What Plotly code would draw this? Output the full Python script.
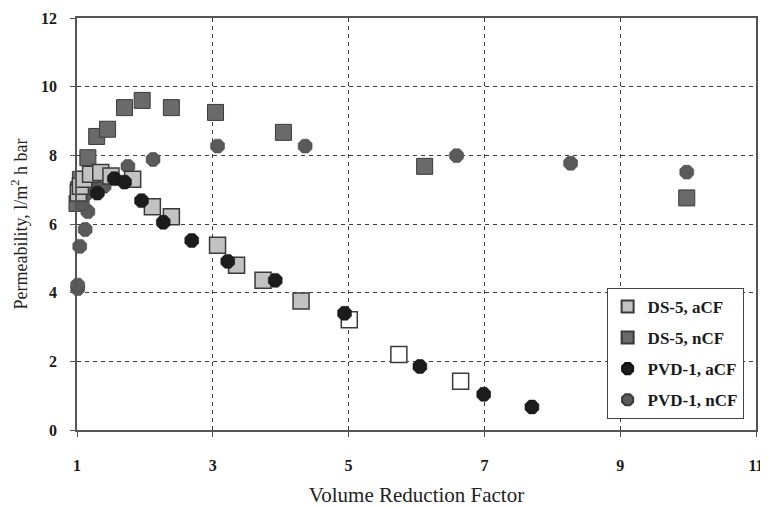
import plotly.graph_objects as go

# DS-5, aCF (light squares)
ds5_a_x = [1.02, 1.05, 1.10, 1.20, 1.35, 1.50, 1.82, 2.11, 2.39, 3.07, 3.35, 3.74, 4.30, 5.01, 5.74, 6.65]
ds5_a_y = [6.90, 7.10, 7.30, 7.45, 7.50, 7.40, 7.30, 6.50, 6.21, 5.38, 4.80, 4.36, 3.76, 3.21, 2.20, 1.42]

# DS-5, nCF (dark squares)
ds5_n_x = [1.00, 1.02, 1.05, 1.16, 1.29, 1.45, 1.70, 1.96, 2.39, 3.04, 4.04, 6.12, 9.98]
ds5_n_y = [6.60, 7.00, 7.30, 7.93, 8.55, 8.76, 9.39, 9.60, 9.39, 9.25, 8.67, 7.68, 6.76]

# PVD-1, aCF (black circles, lower curve)
pvd_a_x = [1.30, 1.55, 1.70, 1.95, 2.27, 2.69, 3.22, 3.92, 4.94, 6.05, 6.99, 7.70]
pvd_a_y = [6.90, 7.32, 7.22, 6.68, 6.05, 5.52, 4.91, 4.36, 3.40, 1.85, 1.04, 0.67]

# PVD-1, nCF (upper curve circles)
pvd_n_x = [1.01, 1.01, 1.04, 1.12, 1.16, 1.08, 1.15, 1.25, 1.40, 1.75, 2.12, 3.07, 4.36, 6.59, 8.27, 9.98]
pvd_n_y = [4.12, 4.22, 5.35, 5.84, 6.36, 6.60, 6.90, 7.00, 7.10, 7.68, 7.88, 8.27, 8.27, 7.99, 7.77, 7.51]

x_ticks = [1, 3, 5, 7, 9, 11]
y_ticks = [0, 2, 4, 6, 8, 10, 12]

serif = "Liberation Serif, Times New Roman, serif"

# open (faded) squares at the end of the DS-5 aCF series
ds5_a_fill = ["#c2c2c2"] * (len(ds5_a_x) - 3) + ["#ffffff"] * 3

fig = go.Figure()
fig.add_trace(go.Scatter(
    x=ds5_n_x, y=ds5_n_y, mode="markers", name="DS-5, nCF", legendrank=2, legendgroup="b",
    marker=dict(symbol="square", size=16, color="#6a6a6a", line=dict(color="#3a3a3a", width=1)),
    cliponaxis=False))
fig.add_trace(go.Scatter(
    x=pvd_n_x, y=pvd_n_y, mode="markers", name="PVD-1, nCF", legendrank=4, legendgroup="d",
    marker=dict(symbol="octagon", size=15, color="#5a5a5a", line=dict(color="#3a3a3a", width=0.5)),
    cliponaxis=False))
fig.add_trace(go.Scatter(
    x=ds5_a_x, y=ds5_a_y, mode="markers", name="DS-5, aCF", legendrank=1, legendgroup="a",
    marker=dict(symbol="square", size=16, color=ds5_a_fill, line=dict(color="#3a3a3a", width=1.5)),
    cliponaxis=False))
fig.add_trace(go.Scatter(
    x=pvd_a_x, y=pvd_a_y, mode="markers", name="PVD-1, aCF", legendrank=3, legendgroup="c",
    marker=dict(symbol="octagon", size=15, color="#1c1c1c", line=dict(color="#111111", width=0.5)),
    cliponaxis=False))

fig.update_layout(
    width=760, height=499,
    margin=dict(l=69, r=12, t=10, b=77),
    plot_bgcolor="white", paper_bgcolor="white",
    font=dict(family=serif, color="#222222"),
    legend=dict(
        x=0.78, y=0.345, xanchor="left", yanchor="top",
        bgcolor="white", bordercolor="#444444", borderwidth=1,
        font=dict(family=serif, size=17, color="#1a1a1a", weight="bold"),
        itemsizing="constant", tracegroupgap=6,
    ),
    xaxis=dict(
        range=[1, 11], tickvals=x_ticks, ticktext=[str(v) for v in x_ticks],
        showgrid=True, gridcolor="#3d3d3d", griddash="4px,4px", gridwidth=1.2,
        showline=True, linecolor="#555555", linewidth=1.5, mirror=True,
        ticks="outside", ticklen=5, tickcolor="#555555",
        tickfont=dict(family=serif, size=16, color="#1a1a1a", weight="bold"),
        ticklabelstandoff=15, automargin=False,
        zeroline=False,
        title=dict(text="Volume Reduction Factor", font=dict(family=serif, size=21, color="#222222"), standoff=16),
    ),
    yaxis=dict(
        range=[0, 12], tickvals=y_ticks, ticktext=[str(v) for v in y_ticks],
        showgrid=True, gridcolor="#3d3d3d", griddash="4px,4px", gridwidth=1.2,
        showline=True, linecolor="#555555", linewidth=1.5, mirror=True,
        ticks="outside", ticklen=5, tickcolor="#555555",
        tickfont=dict(family=serif, size=16, color="#1a1a1a", weight="bold"),
        ticklabelstandoff=10, ticklabeloverflow="allow", automargin=False,
        zeroline=False,
        title=dict(text="Permeability, l/m<sup>2</sup> h bar", font=dict(family=serif, size=18, color="#222222"), standoff=14),
    ),
)

fig.write_html("out.html")
